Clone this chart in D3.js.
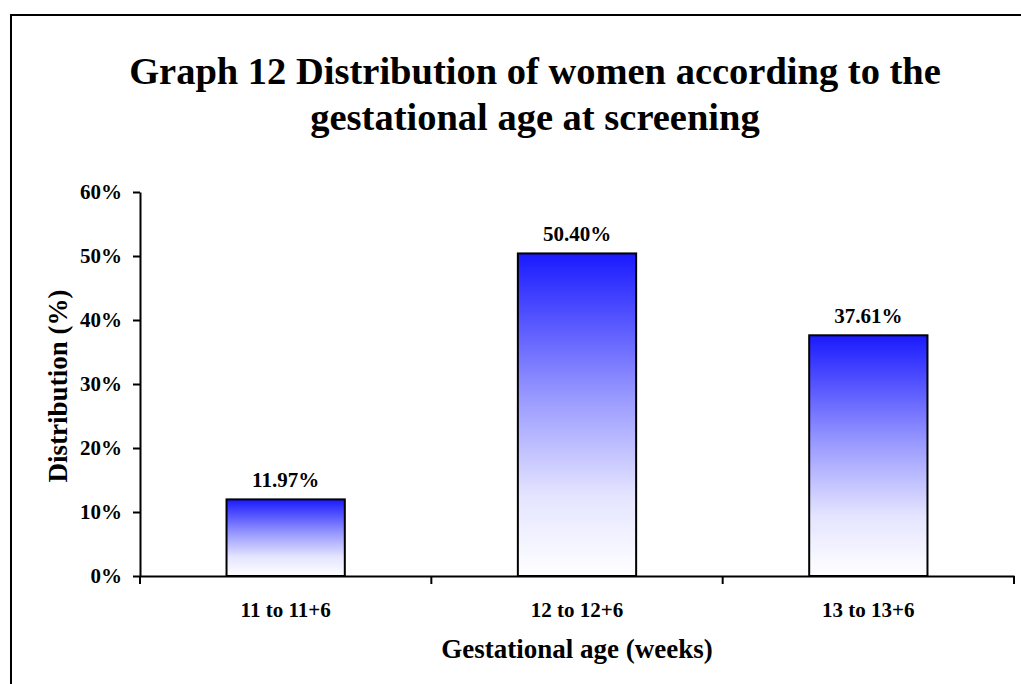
<!DOCTYPE html>
<html>
<head>
<meta charset="utf-8">
<script src="https://cdn.jsdelivr.net/npm/d3@7"></script>
<style>
  body { margin: 0; background: #fff; }
  svg { display: block; font-family: "Liberation Serif", "Times New Roman", serif; font-weight: bold; }
</style>
</head>
<body>
<svg width="1021" height="684"></svg>
<script>
const categories = ['11 to 11+6', '12 to 12+6', '13 to 13+6'];
const values = [11.97, 50.40, 37.61];
const yTicks = [0, 10, 20, 30, 40, 50, 60];

const svg = d3.select('svg');
const margin = { left: 140, right: 7, top: 192, bottom: 108 };
const width = 1021, height = 684;

// outer frame, runs off the right and bottom edges
svg.append('rect')
  .attr('x', 11).attr('y', 15)
  .attr('width', 1040).attr('height', 700)
  .attr('fill', 'none').attr('stroke', '#000').attr('stroke-width', 2);

const defs = svg.append('defs');
const grad = defs.append('linearGradient')
  .attr('id', 'barFill').attr('x1', 0).attr('y1', 0).attr('x2', 0).attr('y2', 1);
grad.append('stop').attr('offset', '0%').attr('stop-color', '#1a1aff');
grad.append('stop').attr('offset', '45%').attr('stop-color', '#9a9aff');
grad.append('stop').attr('offset', '75%').attr('stop-color', '#e4e4ff');
grad.append('stop').attr('offset', '100%').attr('stop-color', '#ffffff');

const x = d3.scaleBand()
  .domain(categories)
  .range([margin.left, width - margin.right])
  .paddingInner(0.594)
  .paddingOuter(0.297);

const y = d3.scaleLinear()
  .domain([0, 60])
  .range([height - margin.bottom, margin.top]);

// title
const title = svg.append('text')
  .attr('text-anchor', 'middle')
  .attr('font-size', 38.5);
title.append('tspan').attr('x', 535).attr('y', 84).text('Graph 12 Distribution of women according to the');
title.append('tspan').attr('x', 535).attr('y', 130).text('gestational age at screening');

// bars
svg.selectAll('rect.bar')
  .data(values)
  .join('rect')
  .attr('class', 'bar')
  .attr('x', (d, i) => x(categories[i]))
  .attr('y', d => y(d))
  .attr('width', x.bandwidth())
  .attr('height', d => y(0) - y(d))
  .attr('fill', 'url(#barFill)')
  .attr('stroke', '#000')
  .attr('stroke-width', 2);

svg.selectAll('text.val')
  .data(values)
  .join('text')
  .attr('class', 'val')
  .attr('x', (d, i) => x(categories[i]) + x.bandwidth() / 2)
  .attr('y', d => y(d) - 12)
  .attr('text-anchor', 'middle')
  .attr('font-size', 21)
  .text(d => d.toFixed(2) + '%');

// y axis
const yAxis = svg.append('g')
  .attr('transform', `translate(${margin.left},0)`)
  .call(d3.axisLeft(y).tickValues(yTicks).tickFormat(d => d + '%').tickSize(7).tickSizeOuter(0));
yAxis.select('.domain').attr('stroke-width', 2);
yAxis.selectAll('.tick line').attr('stroke-width', 2);
yAxis.selectAll('.tick text')
  .attr('font-family', 'Liberation Serif, serif')
  .attr('font-weight', 'bold')
  .attr('font-size', 21)
  .attr('fill', '#000')
  .attr('x', -18);

// x axis with ticks between categories
const xAxis = svg.append('g')
  .attr('transform', `translate(0,${y(0)})`)
  .call(d3.axisBottom(x).tickSize(0).tickSizeOuter(0));
xAxis.select('.domain').attr('stroke-width', 2);
xAxis.selectAll('.tick text')
  .attr('font-family', 'Liberation Serif, serif')
  .attr('font-weight', 'bold')
  .attr('font-size', 21)
  .attr('fill', '#000')
  .attr('dy', 0)
  .attr('y', 41);

const step = x.step();
const bounds = d3.range(categories.length + 1).map(i => margin.left + i * step);
svg.append('g').selectAll('line')
  .data(bounds)
  .join('line')
  .attr('x1', d => d).attr('x2', d => d)
  .attr('y1', y(0)).attr('y2', y(0) + 8)
  .attr('stroke', '#000').attr('stroke-width', 2);

// axis titles
svg.append('text')
  .attr('x', (margin.left + width - margin.right) / 2)
  .attr('y', 658)
  .attr('text-anchor', 'middle')
  .attr('font-size', 27)
  .text('Gestational age (weeks)');

svg.append('text')
  .attr('transform', `translate(67,386) rotate(-90)`)
  .attr('text-anchor', 'middle')
  .attr('font-size', 27)
  .text('Distribution (%)');
</script>
</body>
</html>
